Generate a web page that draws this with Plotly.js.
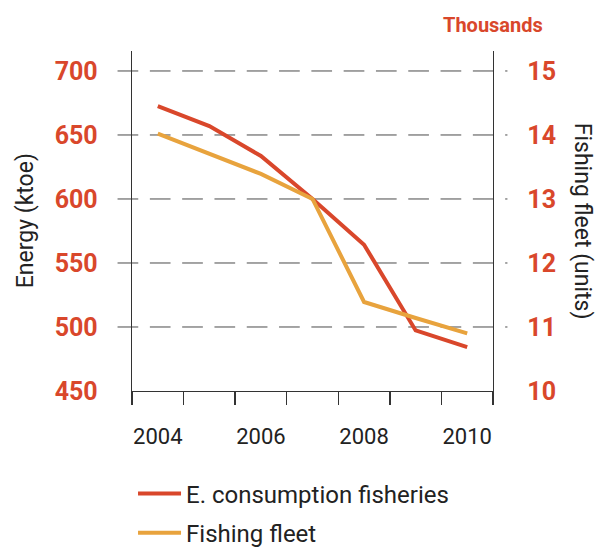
<!DOCTYPE html>
<html>
<head>
<meta charset="utf-8">
<script src="https://cdn.plot.ly/plotly-3.0.1.min.js"></script>
<style>html,body{margin:0;padding:0;background:#fff;}#chart{width:596px;height:547px;}</style>
</head>
<body>
<div id="chart"></div>
<script>
// Data
const years = [2004, 2005, 2006, 2007, 2008, 2009, 2010];
const energyKtoe = [672.5, 657, 633.6, 600, 564.3, 497.3, 484.3];
const fleetThousands = [14.02, 13.70, 13.39, 13.0, 11.39, 11.14, 10.90];
const xTickLabels = [2004, 2006, 2008, 2010];
const leftTicks = [450, 500, 550, 600, 650, 700];
const rightTicks = [10, 11, 12, 13, 14, 15];
const gridValues = [500, 550, 600, 650, 700];

const RED = '#D9472B';
const ORANGE = '#E8A33D';
const DARK = '#222222';
const FONT = 'Roboto, "DejaVu Sans", sans-serif';

const traces = [
  {
    x: years, y: energyKtoe, type: 'scatter', mode: 'lines',
    name: 'E. consumption fisheries',
    line: {color: RED, width: 4},
    yaxis: 'y', legendgroup: 'a'
  },
  {
    x: years, y: fleetThousands, type: 'scatter', mode: 'lines',
    name: 'Fishing fleet',
    line: {color: ORANGE, width: 4},
    yaxis: 'y2', legendgroup: 'b'
  }
];

const shapes = gridValues.map(v => ({
  type: 'line', xref: 'paper', yref: 'y',
  x0: -0.04, x1: 1.04, y0: v, y1: v,
  line: {color: '#4a4a4a', width: 1, dash: '20.7px,11.6px'},
  layer: 'below'
}));

const layout = {
  width: 596, height: 547,
  margin: {l: 132, r: 103, t: 51, b: 155.5, autoexpand: false},
  paper_bgcolor: '#ffffff', plot_bgcolor: '#ffffff',
  font: {family: FONT, color: DARK},
  showlegend: true,
  legend: {
    xref: 'container', yref: 'container',
    x: 0.2232, y: 0.138, xanchor: 'left', yanchor: 'top',
    orientation: 'v', traceorder: 'grouped', tracegroupgap: 5,
    itemwidth: 43,
    font: {family: FONT, size: 24, color: DARK},
    bgcolor: 'rgba(0,0,0,0)'
  },
  xaxis: {
    type: 'linear', range: [2003.5, 2010.5],
    tickmode: 'array', tickvals: xTickLabels, ticktext: xTickLabels.map(String),
    ticks: '', showgrid: false, zeroline: false,
    showline: true, linecolor: '#333333', linewidth: 1.3,
    ticklabelstandoff: 25,
    tickfont: {family: FONT, size: 22, color: DARK},
    minor: {tick0: 2004.5, dtick: 1, ticks: 'outside', ticklen: 13, tickcolor: '#333333', tickwidth: 1.3, showgrid: false}
  },
  yaxis: {
    range: [450, 715.6],
    tickmode: 'array', tickvals: leftTicks, ticktext: leftTicks.map(String),
    ticks: '', showgrid: false, zeroline: false,
    showline: true, linecolor: '#333333', linewidth: 1.3,
    ticklabelstandoff: 28,
    tickfont: {family: FONT, size: 25, color: RED, weight: 'bold'}
  },
  yaxis2: {
    range: [10, 15.31], overlaying: 'y', side: 'right',
    tickmode: 'array', tickvals: rightTicks, ticktext: rightTicks.map(String),
    ticks: '', showgrid: false, zeroline: false,
    showline: true, linecolor: '#333333', linewidth: 1.3,
    ticklabelstandoff: 28,
    tickfont: {family: FONT, size: 25, color: RED, weight: 'bold'}
  },
  shapes: shapes,
  annotations: [
    {text: 'Energy (ktoe)', xref: 'paper', yref: 'paper', x: -0.2956, y: 0.5,
     xanchor: 'center', yanchor: 'middle', textangle: -90, showarrow: false,
     font: {family: FONT, size: 23, color: DARK}},
    {text: 'Fishing fleet (units)', xref: 'paper', yref: 'paper', x: 1.25, y: 0.5,
     xanchor: 'center', yanchor: 'middle', textangle: 90, showarrow: false,
     font: {family: FONT, size: 23, color: DARK}},
    {text: 'Thousands', xref: 'paper', yref: 'paper', x: 1.0008, y: 1.0764,
     xanchor: 'center', yanchor: 'middle', showarrow: false,
     font: {family: FONT, size: 20, color: RED, weight: 'bold'}}
  ]
};

Plotly.newPlot('chart', traces, layout, {displayModeBar: false, staticPlot: true});
</script>
</body>
</html>
